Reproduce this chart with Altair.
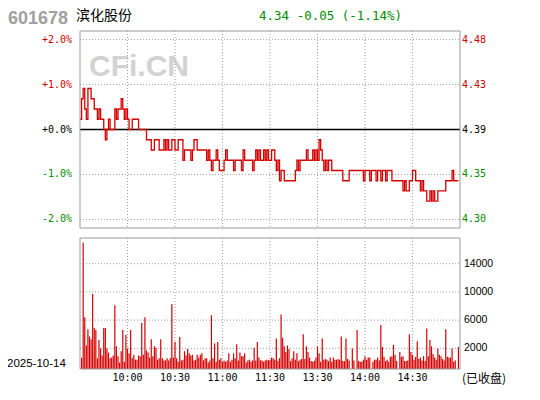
import altair as alt
import pandas as pd

# ---------------- data ----------------
PREV_CLOSE = 4.39
# one price per trading minute (minute 0 = 9:30 ... 239)
price = [
    4.40, 4.42, 4.43, 4.41, 4.40, 4.43, 4.43, 4.42, 4.42, 4.41,
    4.41, 4.40, 4.41, 4.40, 4.40, 4.39, 4.38, 4.39, 4.40, 4.39,
    4.39, 4.39, 4.41, 4.40, 4.41, 4.41, 4.42, 4.41, 4.40, 4.41,
    4.40, 4.39, 4.39, 4.40, 4.40, 4.40, 4.40, 4.39, 4.39, 4.39,
    4.39, 4.39, 4.38, 4.38, 4.38, 4.37, 4.37, 4.38, 4.38, 4.38,
    4.37, 4.37, 4.37, 4.38, 4.37, 4.38, 4.37, 4.37, 4.38, 4.38,
    4.37, 4.37, 4.38, 4.38, 4.38, 4.36, 4.37, 4.37, 4.37, 4.37,
    4.36, 4.37, 4.38, 4.38, 4.37, 4.37, 4.37, 4.37, 4.37, 4.37,
    4.36, 4.37, 4.36, 4.35, 4.36, 4.36, 4.37, 4.36, 4.35, 4.35,
    4.35, 4.36, 4.37, 4.36, 4.36, 4.36, 4.36, 4.35, 4.36, 4.36,
    4.36, 4.36, 4.35, 4.37, 4.36, 4.36, 4.36, 4.36, 4.36, 4.35,
    4.36, 4.37, 4.36, 4.37, 4.36, 4.36, 4.37, 4.36, 4.37, 4.36,
    4.36, 4.37, 4.37, 4.36, 4.35, 4.36, 4.34, 4.35, 4.35, 4.34,
    4.34, 4.34, 4.34, 4.34, 4.34, 4.34, 4.35, 4.36, 4.35, 4.36,
    4.36, 4.36, 4.36, 4.37, 4.36, 4.36, 4.36, 4.37, 4.36, 4.37,
    4.36, 4.38, 4.37, 4.36, 4.35, 4.36, 4.35, 4.36, 4.36, 4.35,
    4.35, 4.35, 4.35, 4.35, 4.35, 4.35, 4.34, 4.34, 4.34, 4.34,
    4.35, 4.35, 4.35, 4.35, 4.35, 4.35, 4.35, 4.35, 4.35, 4.34,
    4.35, 4.35, 4.35, 4.34, 4.35, 4.35, 4.35, 4.34, 4.35, 4.35,
    4.34, 4.35, 4.35, 4.34, 4.35, 4.35, 4.35, 4.34, 4.34, 4.34,
    4.34, 4.34, 4.34, 4.34, 4.33, 4.34, 4.33, 4.33, 4.34, 4.34,
    4.35, 4.35, 4.34, 4.34, 4.34, 4.33, 4.34, 4.33, 4.33, 4.32,
    4.32, 4.33, 4.32, 4.33, 4.32, 4.32, 4.33, 4.33, 4.33, 4.33,
    4.33, 4.34, 4.34, 4.34, 4.34, 4.35, 4.34, 4.34, 4.34, 4.34,
]

# volume per minute (minutes 1..121, then 122..239); None = no bar
vol_am = [
    670, 16950, 6400, 2400, 4700, 3700, 3300, 9700, 4900, 4600,
    600, 3200, 2000, 1000, 4900, 4900, 2000, 1400, 600, 700,
    1000, 8100, 2300, 900, 0, 1600, 4600, 100, 3900, 2000,
    1300, 4600, 600, 1100, 400, 400, 1000, 900, 5600, 1100,
    6400, 1700, 1400, 700, 3300, 900, 2300, 2100, 400, 600,
    3300, 600, 300, 300, 600, 300, 600, 8300, 700, 2900,
    600, 100, 3600, 300, 400, 1600, 1000, 1900, 1300, 1000,
    1100, 300, 400, 1100, 700, 1100, 1300, 300, 600, 600,
    0, 300, 6700, 600, 2700, 100, 2900, 400, 600, 100,
    300, 100, 300, 1300, 100, 400, 1300, 600, 2600, 300,
    1400, 900, 900, 1300, 0, 300, 400, 100, 300, 2100,
    300, 2900, 700, 300, 300, 100, 300, 400, 300, 400,
    700,
]
vol_pm = [
    600, 400, 3400, 200, 600, 6800, 3500, 2300, 1500, 2400,
    1900, 200, 600, 1600, 400, 1300, 200, 400, 500, 4000,
    500, 2300, 1500, 700, 200, 100, 200, 700, 2300, 1300,
    100, 3400, 400, 500, 400, 200, 700, 100, 700, 400,
    400, 500, 400, 3700, 200, 200, 3400, 500, 300, None,
    2000, 300, None, 4600, 200, 100, 100, 400, 900, 400,
    700, 700, None, 100, 400, 400, 700, 300, 5300, 2200,
    800, 200, 400, 100, 800, 900, 2500, 1100, 200, None,
    1500, 800, 900, 200, 200, 300, 4000, 1500, 1100, 400,
    800, 3000, 500, 700, 300, 900, 200, 4800, 900, 3200,
    2300, 1200, 700, 400, 2000, 1100, 900, 500, 300, 4700,
    800, 700, 700, 2000, 100, 300, None, 2200,
]

pct_ticks = [2, 1, 0, -1, -2]
pct_labels = ["+2.0%", "+1.0%", "+0.0%", "-1.0%", "-2.0%"]
price_labels = ["4.48", "4.43", "4.39", "4.35", "4.30"]
vol_ticks = [14000, 10000, 6000, 2000]
vol_labels = ["14000", "10000", "6000", "2000"]
time_ticks = [30, 60, 90, 120, 150, 180, 210]
time_labels = ["10:00", "10:30", "11:00", "11:30", "13:30", "14:00", "14:30"]

RED = "#cc0000"
GREEN = "#008c00"
GRID = "#a0a0a0"
BORDER = "#999999"
label_colors = [RED, RED, "#000000", GREEN, GREEN]

# ---------------- scales ----------------
P_MAX, P_MIN = 2.19, -2.19
V_MAX, V_MIN = 17635, -920
X = alt.Scale(domain=[0, 240], nice=False, zero=False, padding=0)
PY = alt.Scale(domain=[P_MIN, P_MAX], range=[197, 0], nice=False, zero=False, padding=0)
VY = alt.Scale(domain=[V_MIN, V_MAX], range=[338, 207], nice=False, zero=False, padding=0)

# ---------------- tables ----------------
line_df = pd.DataFrame({
    "m": list(range(len(price))),
    "pct": [(p - PREV_CLOSE) / PREV_CLOSE * 100 for p in price],
})
vols = vol_am + vol_pm
vol_df = pd.DataFrame({"m": list(range(1, len(vols) + 1)), "v": vols})
vol_df = vol_df.dropna()
vol_df["base"] = V_MIN

pct_df = pd.DataFrame({"pct": pct_ticks, "lab": pct_labels, "plab": price_labels,
                       "col": label_colors, "m0": 0, "m1": 240})
vgrid_df = pd.DataFrame({"v": vol_ticks, "lab": vol_labels, "m0": 0, "m1": 240})
time_df = pd.DataFrame({"m": time_ticks, "lab": time_labels,
                        "ptop": P_MAX, "pbot": P_MIN, "vtop": V_MAX, "vbot": V_MIN})
box_df = pd.DataFrame({"m0": [0], "m1": [240], "ptop": [P_MAX], "pbot": [P_MIN],
                       "vtop": [V_MAX], "vbot": [V_MIN]})
one = pd.DataFrame({"a": [0]})

MONO = "DejaVu Sans Mono"
SANS = "Liberation Sans"
CJK = "Noto Sans CJK SC"

# ---------------- layers ----------------
watermark = alt.Chart(one).mark_text(
    text="CFi.CN", font=SANS, fontSize=30, fontWeight="bold", color="#d2d2d2",
    align="left", baseline="alphabetic").encode(x=alt.value(9), y=alt.value(44.7))

p_vgrid = alt.Chart(time_df).mark_rule(color=GRID, strokeDash=[1, 2], strokeWidth=1).encode(
    x=alt.X("m:Q", scale=X, axis=None),
    y=alt.Y("ptop:Q", scale=PY, axis=None), y2="pbot:Q")
p_hgrid = alt.Chart(pct_df[pct_df["pct"] != 0]).mark_rule(
    color=GRID, strokeDash=[1, 2], strokeWidth=1).encode(
    x=alt.X("m0:Q", scale=X, axis=None), x2="m1:Q",
    y=alt.Y("pct:Q", scale=PY, axis=None))
p_zero = alt.Chart(pct_df[pct_df["pct"] == 0]).mark_rule(color="#000000", strokeWidth=1.5).encode(
    x=alt.X("m0:Q", scale=X, axis=None), x2="m1:Q",
    y=alt.Y("pct:Q", scale=PY, axis=None))
p_line = alt.Chart(line_df).mark_line(color="#d40000", strokeWidth=1.3,
                                      interpolate="step-after").encode(
    x=alt.X("m:Q", scale=X, axis=None),
    y=alt.Y("pct:Q", scale=PY, axis=None))
p_box = alt.Chart(box_df).mark_rect(fill="transparent", stroke=BORDER, strokeWidth=1).encode(
    x=alt.X("m0:Q", scale=X, axis=None), x2="m1:Q",
    y=alt.Y("ptop:Q", scale=PY, axis=None), y2="pbot:Q")
p_left = alt.Chart(pct_df).mark_text(font=MONO, fontSize=10, align="right",
                                     baseline="middle").encode(
    x=alt.value(-8), y=alt.Y("pct:Q", scale=PY, axis=None),
    text="lab:N", color=alt.Color("col:N", scale=None))
p_right = alt.Chart(pct_df).mark_text(font=MONO, fontSize=10, align="left",
                                      baseline="middle").encode(
    x=alt.value(382), y=alt.Y("pct:Q", scale=PY, axis=None),
    text="plab:N", color=alt.Color("col:N", scale=None))

v_vgrid = alt.Chart(time_df).mark_rule(color=GRID, strokeDash=[1, 2], strokeWidth=1).encode(
    x=alt.X("m:Q", scale=X, axis=None),
    y=alt.Y("vtop:Q", scale=VY, axis=None), y2="vbot:Q")
v_hgrid = alt.Chart(vgrid_df).mark_rule(color=GRID, strokeDash=[1, 2], strokeWidth=1).encode(
    x=alt.X("m0:Q", scale=X, axis=None), x2="m1:Q",
    y=alt.Y("v:Q", scale=VY, axis=None))
v_bars = alt.Chart(vol_df).mark_bar(color="#d40000", size=1.2).encode(
    x=alt.X("m:Q", scale=X, axis=None),
    y=alt.Y("v:Q", scale=VY, axis=None), y2="base:Q")
v_box = alt.Chart(box_df).mark_rect(fill="transparent", stroke=BORDER, strokeWidth=1).encode(
    x=alt.X("m0:Q", scale=X, axis=None), x2="m1:Q",
    y=alt.Y("vtop:Q", scale=VY, axis=None), y2="vbot:Q")
v_labels = alt.Chart(vgrid_df).mark_text(font=SANS, fontSize=10.5, align="left",
                                         baseline="middle", color="#000000").encode(
    x=alt.value(384), y=alt.Y("v:Q", scale=VY, axis=None), text="lab:N")

t_labels = alt.Chart(time_df).mark_text(font=MONO, fontSize=10, align="center",
                                        baseline="middle", color="#000000").encode(
    x=alt.X("m:Q", scale=X, axis=None), y=alt.value(346.5), text="lab:N")

date_txt = alt.Chart(one).mark_text(text="2025-10-14", font=SANS, fontSize=11.5,
                                    align="left", baseline="middle", color="#000000").encode(
    x=alt.value(-73), y=alt.value(332.5))
closed_txt = alt.Chart(one).mark_text(text="(已收盘)", font=CJK, fontSize=12,
                                      align="left", baseline="middle", color="#000000").encode(
    x=alt.value(382), y=alt.value(348))
code_txt = alt.Chart(one).mark_text(text="601678", font=SANS, fontSize=18, fontWeight="bold",
                                    align="left", baseline="alphabetic", color="#a0a0a0").encode(
    x=alt.value(-72), y=alt.value(-7.5))
name_txt = alt.Chart(one).mark_text(text="滨化股份", font=CJK, fontSize=14,
                                    align="left", baseline="top", color="#000000").encode(
    x=alt.value(-4), y=alt.value(-22))
quote_txt = alt.Chart(one).mark_text(text="4.34 -0.05 (-1.14%)", font=MONO, fontSize=12.5,
                                     align="left", baseline="alphabetic", color=GREEN).encode(
    x=alt.value(179), y=alt.value(-11.5))

chart = alt.layer(
    watermark, p_vgrid, p_hgrid, p_zero, p_line, p_box, p_left, p_right,
    v_vgrid, v_hgrid, v_bars, v_box, v_labels,
    t_labels, date_txt, closed_txt, code_txt, name_txt, quote_txt,
).resolve_scale(y="independent").properties(
    width=380, height=338,
    padding={"left": 72, "top": 23, "right": 70, "bottom": 22},
    autosize=alt.AutoSizeParams(type="none"),
    background="#ffffff",
).configure_view(stroke=None)

chart.save("out.html", embed_options={"renderer": "svg", "actions": False})
